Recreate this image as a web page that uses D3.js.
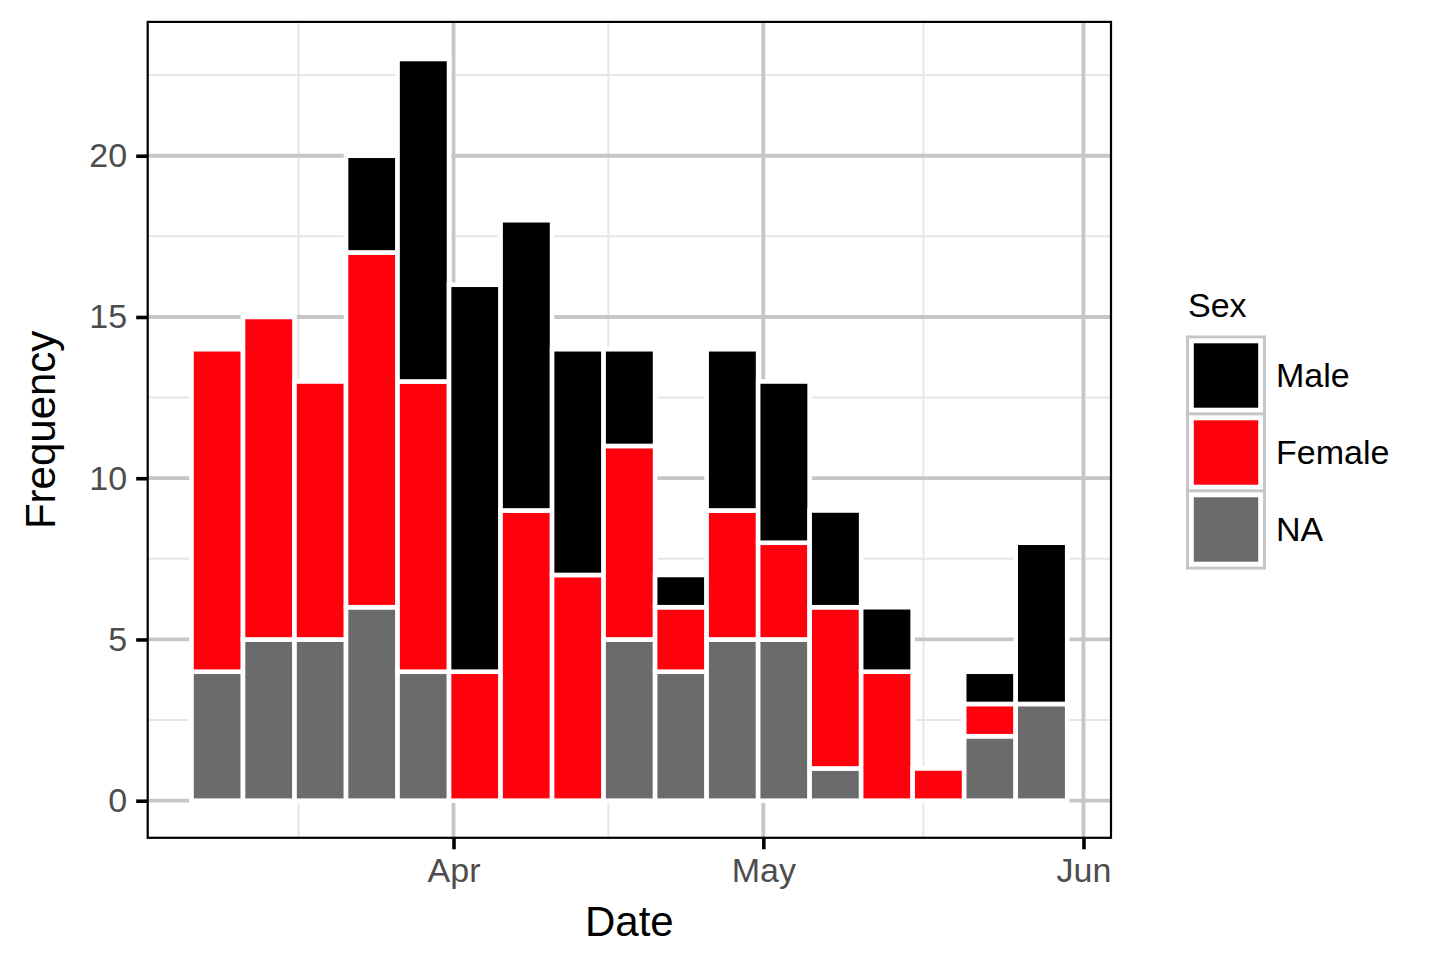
<!DOCTYPE html>
<html>
<head>
<meta charset="utf-8">
<script src="https://cdn.jsdelivr.net/npm/d3@7"></script>
<style>
  html, body { margin: 0; padding: 0; background: #ffffff; }
  svg { display: block; font-family: "Liberation Sans", Arial, Helvetica, sans-serif; }
</style>
</head>
<body>
<svg id="chart" width="1440" height="960"></svg>
<script>
// ---- data ----
const binOrigin    = "2016-03-06T15:07Z";   // left edge of first histogram bin
const binWidthDays = 4.988;                 // histogram bin width
const naCounts     = [4, 5, 5, 6, 4, 0, 0, 0, 5, 4, 5, 5, 1, 0, 0, 2, 3];
const femaleCounts = [10, 10, 8, 11, 9, 4, 9, 7, 6, 2, 4, 3, 5, 4, 1, 1, 0];
const maleCounts   = [0, 0, 0, 3, 10, 12, 9, 7, 3, 1, 5, 5, 3, 2, 0, 1, 5];
const seriesNames  = ["Male", "Female", "NA"];
const seriesColors = ["#000000", "#ff000c", "#6b6b6b"];
const xTickDates   = ["2016-04-01T00:00Z", "2016-05-01T00:00Z", "2016-06-01T00:00Z"];
const xTickLabels  = ["Apr", "May", "Jun"];
const yTicks       = [0, 5, 10, 15, 20];
const xTitle = "Date", yTitle = "Frequency", legendTitle = "Sex";

// ---- layout ----
const svg = d3.select("#chart");
const P = { left: 147.7, right: 1111, top: 21.9, bottom: 837.8 };
const DAY = 864e5;

const origin = new Date(binOrigin);
const bins = naCounts.map((_, i) => ({
  x0: new Date(+origin + i * binWidthDays * DAY),
  x1: new Date(+origin + (i + 1) * binWidthDays * DAY),
  Male: maleCounts[i], Female: femaleCounts[i], NA: naCounts[i]
}));

const xMin = bins[0].x0, xMax = bins[bins.length - 1].x1;
const xSpan = xMax - xMin;
const x = d3.scaleUtc()
  .domain([new Date(+xMin - 0.05 * xSpan), new Date(+xMax + 0.05 * xSpan)])
  .range([P.left, P.right]);

const totals = bins.map(b => b.Male + b.Female + b.NA);
const yMaxData = d3.max(totals);
const y = d3.scaleLinear()
  .domain([-0.05 * yMaxData, yMaxData * 1.05])
  .range([P.bottom, P.top]);

// background
svg.append("rect").attr("width", 1440).attr("height", 960).attr("fill", "#ffffff");

// ---- grid ----
const grid = svg.append("g");
const xMajor = xTickDates.map(d => new Date(d));
// minor breaks (ggplot regular_minor_breaks logic)
let b = xMajor.slice();
const bd = b[1] - b[0];
const [dLo, dHi] = x.domain();
if (dLo < b[0]) b = [new Date(+b[0] - bd), ...b];
if (dHi > b[b.length - 1]) b = [...b, new Date(+b[b.length - 1] + bd)];
const xMinor = [];
for (let i = 0; i < b.length - 1; i++) xMinor.push(new Date((+b[i] + +b[i + 1]) / 2));
const yMinor = yTicks.map(t => t + 2.5).filter(t => t < y.domain()[1]);

grid.selectAll(".ymin").data(yMinor).join("line")
  .attr("x1", P.left).attr("x2", P.right)
  .attr("y1", d => y(d)).attr("y2", d => y(d))
  .attr("stroke", "#e6e6e6").attr("stroke-width", 2);
grid.selectAll(".xmin").data(xMinor.filter(d => d >= dLo && d <= dHi)).join("line")
  .attr("x1", d => x(d)).attr("x2", d => x(d))
  .attr("y1", P.top).attr("y2", P.bottom)
  .attr("stroke", "#e6e6e6").attr("stroke-width", 2);
grid.selectAll(".ymaj").data(yTicks).join("line")
  .attr("x1", P.left).attr("x2", P.right)
  .attr("y1", d => y(d)).attr("y2", d => y(d))
  .attr("stroke", "#c6c6c6").attr("stroke-width", 3.8);
grid.selectAll(".xmaj").data(xMajor).join("line")
  .attr("x1", d => x(d)).attr("x2", d => x(d))
  .attr("y1", P.top).attr("y2", P.bottom)
  .attr("stroke", "#c6c6c6").attr("stroke-width", 3.8);

// ---- bars ----
const stack = d3.stack().keys(["NA", "Female", "Male"]);
const stacked = stack(bins);
const colorOf = k => seriesColors[seriesNames.indexOf(k)];
const barsG = svg.append("g");
bins.forEach((bn, i) => {
  stacked.forEach(layer => {
    const seg = layer[i];
    if (seg[1] - seg[0] <= 0) return;
    barsG.append("rect")
      .attr("x", x(bn.x0))
      .attr("width", x(bn.x1) - x(bn.x0))
      .attr("y", y(seg[1]))
      .attr("height", y(seg[0]) - y(seg[1]))
      .attr("fill", colorOf(layer.key))
      .attr("stroke", "#ffffff")
      .attr("stroke-width", 4.6);
  });
});

// ---- panel border ----
svg.append("rect")
  .attr("x", P.left).attr("y", P.top)
  .attr("width", P.right - P.left).attr("height", P.bottom - P.top)
  .attr("fill", "none").attr("stroke", "#000000").attr("stroke-width", 2.2);

// ---- axes ----
const yAxis = d3.axisLeft(y).tickValues(yTicks).tickSize(11.5).tickPadding(9);
const gy = svg.append("g").attr("transform", `translate(${P.left},0)`).call(yAxis);
gy.select(".domain").remove();
gy.selectAll(".tick line").attr("stroke", "#000000").attr("stroke-width", 3.6);
gy.selectAll(".tick text").attr("fill", "#4d4d4d").attr("font-size", 34)
  .attr("font-family", "Liberation Sans, Arial, sans-serif");

const xAxis = d3.axisBottom(x).tickValues(xMajor)
  .tickFormat((d, i) => xTickLabels[i]).tickSize(11.5).tickPadding(9);
const gx = svg.append("g").attr("transform", `translate(0,${P.bottom})`).call(xAxis);
gx.select(".domain").remove();
gx.selectAll(".tick line").attr("stroke", "#000000").attr("stroke-width", 3.6);
gx.selectAll(".tick text").attr("fill", "#4d4d4d").attr("font-size", 34)
  .attr("font-family", "Liberation Sans, Arial, sans-serif");

// ---- titles ----
svg.append("text")
  .attr("x", (P.left + P.right) / 2).attr("y", 936)
  .attr("text-anchor", "middle").attr("font-size", 42).attr("fill", "#000000")
  .text(xTitle);
svg.append("text")
  .attr("transform", `translate(55,${(P.top + P.bottom) / 2}) rotate(-90)`)
  .attr("text-anchor", "middle").attr("font-size", 42).attr("fill", "#000000")
  .text(yTitle);

// ---- legend ----
const lg = svg.append("g");
lg.append("text").attr("x", 1188).attr("y", 317)
  .attr("font-size", 34).attr("fill", "#000000").text(legendTitle);
const keyX = 1187.5, keyY0 = 337, keySize = 77;
seriesNames.forEach((name, i) => {
  const ky = keyY0 + i * keySize;
  lg.append("rect").attr("x", keyX).attr("y", ky).attr("width", keySize).attr("height", keySize)
    .attr("fill", "#ffffff").attr("stroke", "#c6c6c6").attr("stroke-width", 3);
  lg.append("rect").attr("x", keyX + 4).attr("y", ky + 4)
    .attr("width", keySize - 8).attr("height", keySize - 8)
    .attr("fill", seriesColors[i]).attr("stroke", "#ffffff").attr("stroke-width", 4.6);
  lg.append("text").attr("x", 1276).attr("y", ky + keySize / 2).attr("dy", "0.35em")
    .attr("font-size", 34).attr("fill", "#000000").text(name);
});
</script>
</body>
</html>
